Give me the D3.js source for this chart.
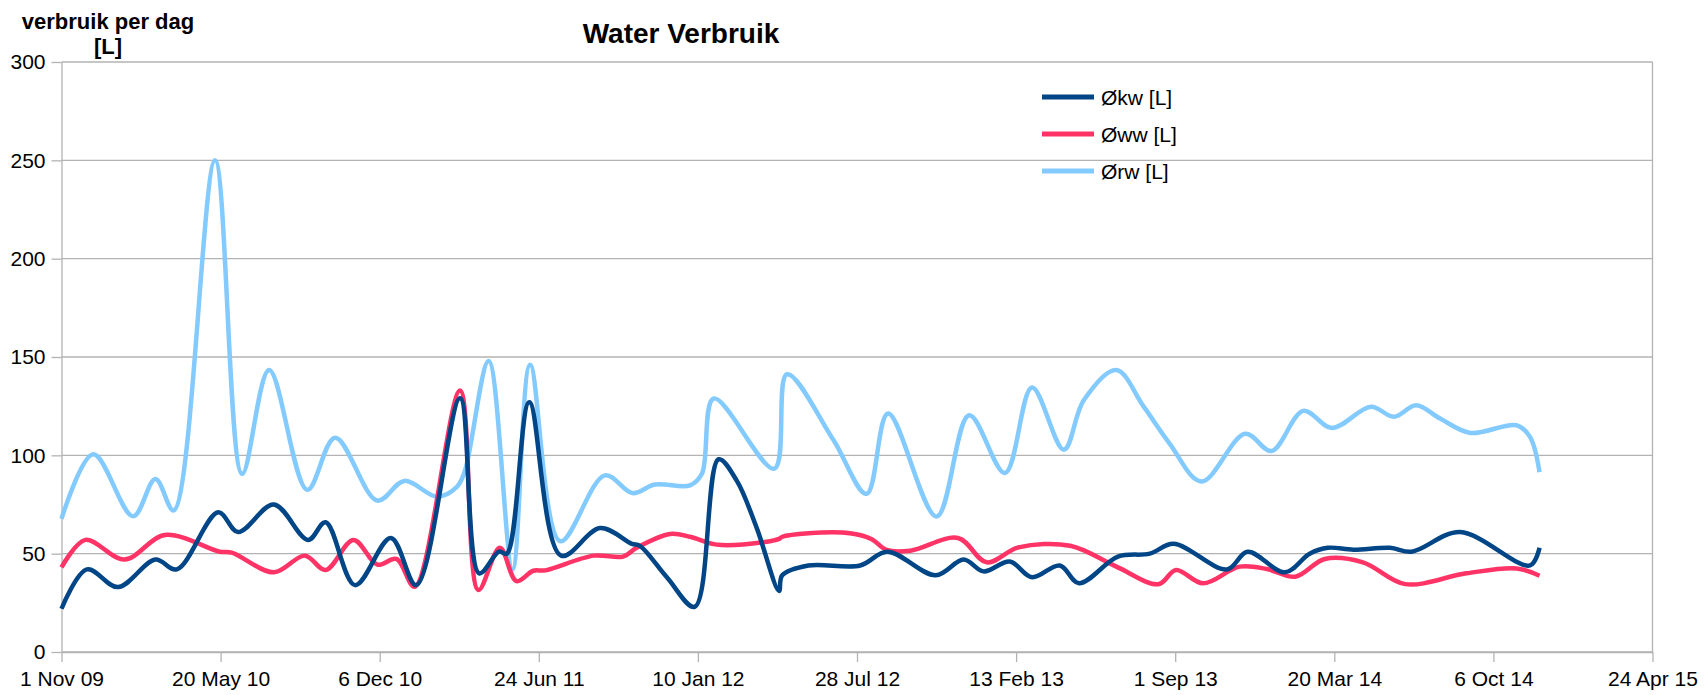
<!DOCTYPE html>
<html>
<head>
<meta charset="utf-8">
<script src="https://cdn.jsdelivr.net/npm/d3@7"></script>
<style>
  body { margin: 0; background: #fff; }
  svg { display: block; }
  text { font-family: "Liberation Sans", Arial, sans-serif; fill: #000; }
</style>
</head>
<body>
<svg id="chart" width="1705" height="695"></svg>
<script>
// ---------- data ----------
const chartTitle = "Water Verbruik";
const yAxisTitle = ["verbruik per dag", "[L]"];
const seriesNames = ["Økw [L]", "Øww [L]", "Ørw [L]"];

const kwDates = ["2009-11-01","2009-12-03","2010-01-11","2010-02-27","2010-03-26","2010-05-17","2010-06-11","2010-07-26","2010-09-07","2010-09-29","2010-11-05","2010-12-20","2011-01-21","2011-03-17","2011-04-10","2011-05-05","2011-05-15","2011-06-12","2011-07-22","2011-09-09","2011-10-19","2011-10-29","2011-12-02","2012-01-06","2012-02-05","2012-02-28","2012-03-24","2012-04-21","2012-04-25","2012-05-28","2012-08-01","2012-09-04","2012-11-04","2012-12-09","2013-01-03","2013-02-05","2013-03-05","2013-04-09","2013-05-03","2013-06-21","2013-07-31","2013-08-30","2013-11-05","2013-12-01","2014-01-17","2014-02-17","2014-03-12","2014-04-13","2014-05-29","2014-06-25","2014-08-25","2014-11-21","2014-12-03"];
const kwValues = [22,42,33,47,42,71,61,75,57,66,34,58,34,129,40,51,50,127,49,63,55,54,38,23,98,87,63,31,39,44,44,51,39,47,41,46,38,44,35,48.5,50,55,42,51,40.5,50,53,52,53,51,61,44,53];

const wwDates = ["2009-11-01","2009-12-01","2010-01-19","2010-03-11","2010-05-19","2010-06-03","2010-07-26","2010-09-03","2010-09-29","2010-11-03","2010-12-03","2010-12-27","2011-01-19","2011-03-17","2011-04-09","2011-05-06","2011-05-27","2011-06-17","2011-07-02","2011-09-01","2011-10-08","2011-10-25","2011-12-06","2011-12-31","2012-02-03","2012-04-01","2012-04-21","2012-04-25","2012-05-28","2012-07-19","2012-08-15","2012-09-03","2012-10-03","2012-12-02","2013-01-07","2013-02-16","2013-04-22","2013-06-19","2013-08-11","2013-09-02","2013-10-06","2013-11-21","2013-12-25","2014-01-30","2014-03-08","2014-04-25","2014-06-17","2014-09-02","2014-11-04","2014-12-03"];
const wwValues = [43,57,47,59.5,51,50.5,40.5,49,41.7,57,44.4,47.3,33.2,133,31.5,53,36,41.3,41.5,49,48.5,53,60,58.6,54.6,55.8,57.5,58.6,60.4,60.4,57.5,51.9,51.5,58,45.6,53.2,54,43.4,34.5,41.7,34.9,43.4,42.2,38.3,47.3,45.6,34.5,40,42.5,38.8];

const rwDates = ["2009-11-01","2009-12-11","2010-01-30","2010-02-27","2010-03-22","2010-05-13","2010-06-16","2010-07-20","2010-09-06","2010-10-11","2010-12-03","2011-01-06","2011-02-16","2011-03-13","2011-03-23","2011-04-22","2011-05-22","2011-06-13","2011-07-21","2011-09-15","2011-10-20","2011-11-17","2011-12-31","2012-01-15","2012-01-30","2012-04-15","2012-05-01","2012-06-28","2012-08-09","2012-09-05","2012-11-05","2012-12-16","2013-01-30","2013-03-05","2013-04-14","2013-05-09","2013-06-19","2013-07-23","2013-08-25","2013-10-04","2013-11-28","2013-12-31","2014-02-09","2014-03-17","2014-05-05","2014-06-03","2014-07-01","2014-07-31","2014-09-07","2014-11-04","2014-11-21","2014-12-03"];
const rwValues = [67.7,100.5,69,88,72,250,90.6,143.4,82.5,109,77,87,79,84,92,148,42,146,56.3,89.8,80.8,85.2,84.7,90.6,128.9,93.2,141.2,108,80.4,121.3,68.9,120.4,91,134.5,102.9,128,143.4,125,106,86.7,111,102.2,122.6,113.9,124.7,119.6,125.5,118.7,111.4,115.3,109.4,91.5];

const xTickDates = ["2009-11-01","2010-05-20","2010-12-06","2011-06-24","2012-01-10","2012-07-28","2013-02-13","2013-09-01","2014-03-20","2014-10-06","2015-04-24"];
const yTicks = [0,50,100,150,200,250,300];

// ---------- setup ----------
const parseDate = d3.utcParse("%Y-%m-%d");
const fmtDate = d3.utcFormat("%-d %b %y");
const colors = ["#004586", "#ff3366", "#83caff"];

const plotLeft = 61.5, plotRight = 1652.5, plotTop = 62, plotBottom = 652;
const svg = d3.select("#chart");

const xScale = d3.scaleUtc()
  .domain([parseDate(xTickDates[0]), parseDate(xTickDates[xTickDates.length - 1])])
  .range([plotLeft, plotRight]);
const yScale = d3.scaleLinear().domain([0, 300]).range([plotBottom, plotTop]);

// gridlines
svg.append("g").selectAll("line").data(yTicks).join("line")
  .attr("x1", plotLeft).attr("x2", plotRight)
  .attr("y1", d => yScale(d)).attr("y2", d => yScale(d))
  .attr("stroke", "#b3b3b3").attr("stroke-width", 1.3);

// right wall line
svg.append("line").attr("x1", plotRight).attr("x2", plotRight)
  .attr("y1", plotTop).attr("y2", plotBottom)
  .attr("stroke", "#b3b3b3").attr("stroke-width", 1.3);

// y axis
const yAxisG = svg.append("g").attr("transform", `translate(${plotLeft},0)`)
  .call(d3.axisLeft(yScale).tickValues(yTicks).tickSize(10).tickSizeOuter(0).tickPadding(6));
yAxisG.select(".domain").attr("stroke", "#b3b3b3").attr("stroke-width", 1.3);
yAxisG.selectAll(".tick line").attr("stroke", "#b3b3b3").attr("stroke-width", 1.3);
yAxisG.selectAll(".tick text").style("font-size", "21px").attr("fill", "#000")
  .style("font-family", '"Liberation Sans", Arial, sans-serif');

// x axis
const xAxisG = svg.append("g").attr("transform", `translate(0,${plotBottom})`)
  .call(d3.axisBottom(xScale).tickValues(xTickDates.map(parseDate)).tickFormat(fmtDate)
    .tickSize(10).tickSizeOuter(0).tickPadding(9));
xAxisG.select(".domain").attr("stroke", "#b3b3b3").attr("stroke-width", 1.3);
xAxisG.selectAll(".tick line").attr("stroke", "#b3b3b3").attr("stroke-width", 1.3);
xAxisG.selectAll(".tick text").style("font-size", "21px").attr("fill", "#000")
  .style("font-family", '"Liberation Sans", Arial, sans-serif');

// series
const series = [
  { name: seriesNames[2], dates: rwDates, values: rwValues, color: colors[2] },
  { name: seriesNames[1], dates: wwDates, values: wwValues, color: colors[1] },
  { name: seriesNames[0], dates: kwDates, values: kwValues, color: colors[0] }
];
const lineGen = d3.line()
  .x(d => xScale(d[0])).y(d => yScale(d[1]))
  .curve(d3.curveCatmullRom.alpha(0.5));

svg.append("g").selectAll("path").data(series).join("path")
  .attr("d", s => lineGen(s.dates.map((dt, i) => [parseDate(dt), s.values[i]])))
  .attr("fill", "none")
  .attr("stroke", s => s.color)
  .attr("stroke-width", 4.5)
  .attr("stroke-linejoin", "round")
  .attr("stroke-linecap", "butt");

// title
svg.append("text").attr("x", 681).attr("y", 43)
  .attr("text-anchor", "middle")
  .style("font-size", "28px").style("font-weight", "bold")
  .text(chartTitle);

// y axis title
svg.append("text").attr("x", 108).attr("y", 29)
  .attr("text-anchor", "middle")
  .style("font-size", "22px").style("font-weight", "bold")
  .text(yAxisTitle[0]);
svg.append("text").attr("x", 108).attr("y", 54)
  .attr("text-anchor", "middle")
  .style("font-size", "22px").style("font-weight", "bold")
  .text(yAxisTitle[1]);

// legend
const legendY = [97, 134, 171];
const legendG = svg.append("g");
seriesNames.forEach((name, i) => {
  legendG.append("line")
    .attr("x1", 1042).attr("x2", 1094)
    .attr("y1", legendY[i]).attr("y2", legendY[i])
    .attr("stroke", colors[i]).attr("stroke-width", 5);
  legendG.append("text")
    .attr("x", 1101).attr("y", legendY[i]).attr("dy", "0.36em")
    .style("font-size", "21px")
    .text(name);
});
</script>
</body>
</html>
